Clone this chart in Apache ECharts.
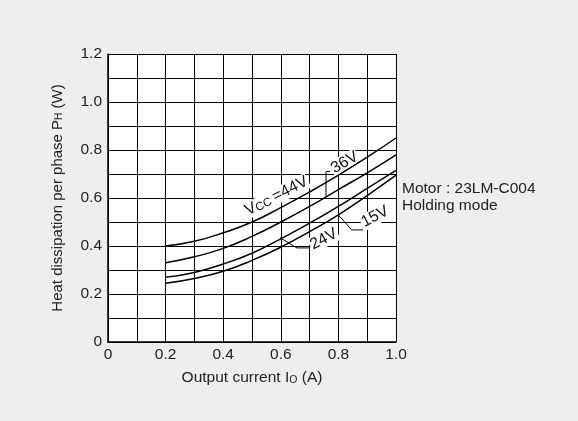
<!DOCTYPE html>
<html>
<head>
<meta charset="utf-8">
<script src="https://cdn.jsdelivr.net/npm/echarts@6/dist/echarts.min.js"></script>
<style>
  html, body { margin: 0; padding: 0; background: #eeeeee; }
  #chart { width: 578px; height: 421px; }
</style>
</head>
<body>
<div id="chart"></div>
<script>
// output current Io (A)
const currents = [0.2, 0.3, 0.4, 0.5, 0.6, 0.7, 0.8, 0.9, 1.0]
// heat dissipation per phase (W)
const v44 = [0.40, 0.42, 0.455, 0.50, 0.56, 0.625, 0.695, 0.77, 0.85]
const v36 = [0.33, 0.355, 0.39, 0.44, 0.50, 0.565, 0.635, 0.705, 0.78]
const v24 = [0.27, 0.29, 0.325, 0.37, 0.43, 0.495, 0.565, 0.64, 0.715]
const v15 = [0.245, 0.265, 0.295, 0.34, 0.395, 0.46, 0.53, 0.61, 0.695]

// leader lines for the curve labels (data coords)
const lead36 = [[0.771, 0.71], [0.757, 0.71], [0.757, 0.606]]
const lead24 = [[0.597, 0.435], [0.656, 0.392], [0.701, 0.392]]
const lead15 = [[0.80, 0.529], [0.846, 0.467], [0.885, 0.467]]

const FONT = 'Liberation Sans, Arial, sans-serif'
const pair = (xs, ys) => xs.map((x, i) => [x, ys[i]])
const tickFmt = v => {
  const n = Math.round(v * 10)
  if (n % 2) return ''
  return n === 0 ? '0' : (n / 10).toFixed(1)
}

const curve = (name, data) => ({
  name, type: 'line', data, smooth: true, symbol: 'none', silent: true,
  lineStyle: { color: '#000', width: 1.5 }, z: 3
})
const leader = data => ({
  type: 'line', data, symbol: 'none', silent: true,
  lineStyle: { color: '#000', width: 1 }, z: 3
})
const nameStyle = size => ({
  fontFamily: FONT, fontSize: size, color: '#222',
  rich: { s: { fontSize: size - 5, fontFamily: FONT, color: '#222', padding: [4, 0, 0, 0] } }
})

const chart = echarts.init(document.getElementById('chart'))
chart.setOption({
  backgroundColor: '#eeeeee',
  animation: false,
  grid: { left: 108, right: 182, top: 54, bottom: 79, backgroundColor: '#fff', show: true, borderWidth: 0 },
  xAxis: {
    type: 'value', min: 0, max: 1, interval: 0.1,
    name: 'Output current I{s|O} (A)', nameLocation: 'middle', nameGap: 28,
    nameTextStyle: nameStyle(15.5),
    axisLine: { lineStyle: { color: '#000', width: 1.5 } },
    axisTick: { show: false },
    axisLabel: { formatter: tickFmt, fontFamily: FONT, fontSize: 15.5, color: '#222', margin: 5 },
    splitLine: { lineStyle: { color: '#000', width: 1 } }
  },
  yAxis: {
    type: 'value', min: 0, max: 1.2, interval: 0.1,
    name: 'Heat dissipation per phase P{s|H} (W)', nameLocation: 'middle', nameGap: 43,
    nameTextStyle: nameStyle(15),
    axisLine: { show: true, lineStyle: { color: '#000', width: 1.5 } },
    axisTick: { show: false },
    axisLabel: { formatter: tickFmt, fontFamily: FONT, fontSize: 15.5, color: '#222', margin: 6 },
    splitLine: { lineStyle: { color: '#000', width: 1 } }
  },
  series: [
    curve('44V', pair(currents, v44)),
    curve('36V', pair(currents, v36)),
    curve('24V', pair(currents, v24)),
    curve('15V', pair(currents, v15)),
    leader(lead36), leader(lead24), leader(lead15)
  ]
})

// curve labels placed through the chart's own scales
const labels = [
  { at: [0.585, 0.608], text: '{v|V}{s|CC} {v|=44V}', rot: 27 },
  { at: [0.822, 0.748], text: '{v|36V}', rot: 30 },
  { at: [0.749, 0.428], text: '{v|24V}', rot: 28 },
  { at: [0.927, 0.522], text: '{v|15V}', rot: 28 }
]
const graphics = labels.map(l => {
  const [px, py] = chart.convertToPixel({ gridIndex: 0 }, l.at)
  return {
    type: 'text', x: px, y: py, rotation: l.rot * Math.PI / 180, z: 1,
    style: {
      text: l.text, align: 'center', verticalAlign: 'middle',
      backgroundColor: '#fff', padding: [0, 1],
      rich: {
        v: { fontFamily: FONT, fontSize: 16, fill: '#111' },
        s: { fontFamily: FONT, fontSize: 11.5, fill: '#111', padding: [4, 0, 0, 0] }
      }
    }
  }
})
graphics.push({
  type: 'text', left: 402, top: 180,
  style: { text: 'Motor : 23LM-C004\nHolding mode', fontFamily: FONT, fontSize: 15.5, fill: '#222', lineHeight: 17 }
})
chart.setOption({ graphic: graphics })
</script>
</body>
</html>
